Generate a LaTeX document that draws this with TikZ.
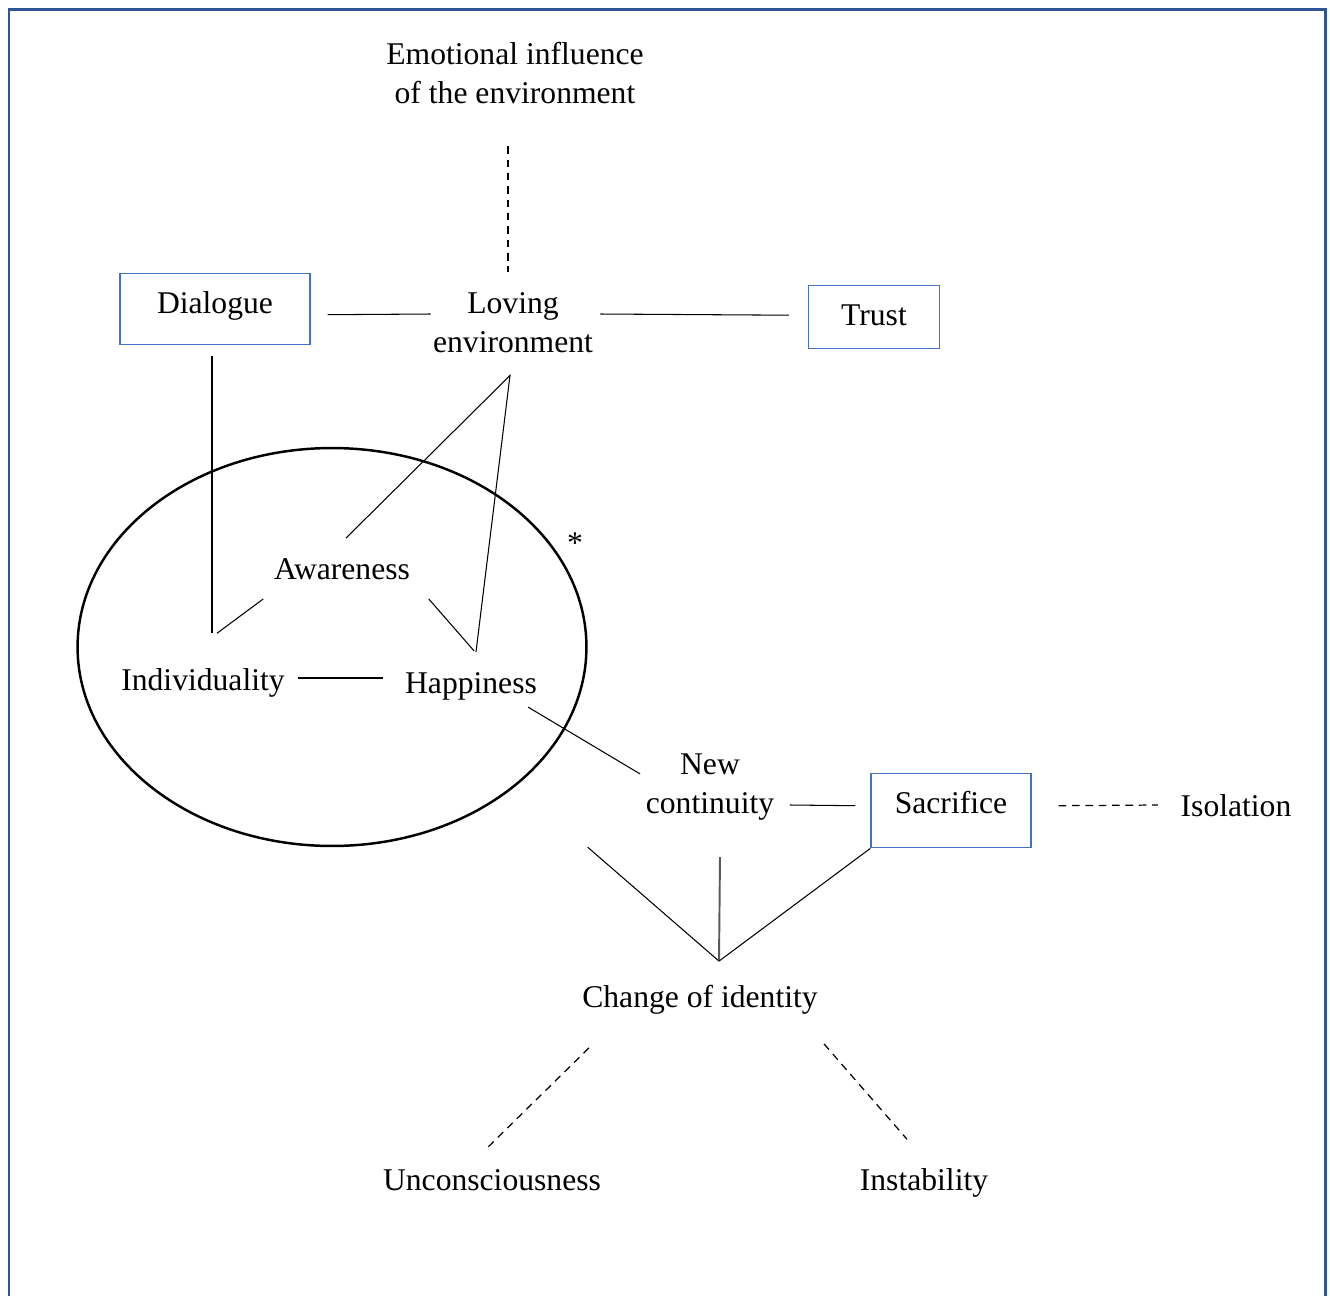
\documentclass[tikz,border=0pt]{standalone}
\usepackage{fontspec}
\setmainfont{Liberation Serif}
\usetikzlibrary{shapes.geometric, positioning}
\definecolor{framecol}{RGB}{47,85,151}
\definecolor{boxcol}{RGB}{68,114,196}
\definecolor{stemgray}{RGB}{89,89,89}

\begin{document}
\begin{tikzpicture}[
    x=0.02cm, y=-0.02cm,
    every node/.style={font=\fontsize{18}{22.2}\selectfont},
    txt/.style={inner sep=0pt, align=center},
    box/.style={rectangle, draw=boxcol, line width=0.8pt, inner sep=0pt, text height=0.8cm, anchor=north},
    link/.style={line width=0.6pt},
    dashlink/.style={line width=0.7pt, dash pattern=on 4.3pt off 3.3pt}
]
\useasboundingbox (0,0) rectangle (1330,1296);

% Frame
\draw[framecol, line width=0.06cm] (9,1310) -- (9,9) -- (1325,9) -- (1325,1310);

% Top layer
\node[txt] (emotion) at (515,73) {Emotional influence\\of the environment};
\node[txt] (loving) at (513,322.5) {Loving\\environment};
\node[box, minimum width=3.8cm, text depth=0.62cm] (dialogue) at (215,273) {Dialogue};
\node[box, minimum width=2.62cm, text depth=0.46cm] (trust) at (874,285) {Trust};

% Circle
\node[ellipse, draw, line width=1.4pt, minimum width=10.18cm, minimum height=7.96cm] (core) at (332,647) {};
\node[txt] (awareness) at (342,569) {Awareness};
\node[txt] (individuality) at (203,683) {Individuality};
\node[txt] (happiness) at (471,686) {Happiness};
\node[txt] (asterisk) at (575,543) {*};

% Lower layer
\node[txt] (continuity) at (710,787.5) {New\\continuity};
\node[box, minimum width=3.2cm, text depth=0.68cm] (sacrifice) at (951,773) {Sacrifice};
\node[txt] (isolation) at (1236,806) {Isolation};
\node[txt] (identity) at (700,1000) {Change of identity};
\node[txt] (unconscious) at (492,1180) {Unconsciousness};
\node[txt] (instability) at (924,1183) {Instability};
\coordinate (meet) at ([shift={(19,-24)}]identity.north);

% Links
\draw[dashlink] ([shift={(-7,42)}]emotion.south) -- ([shift={(-5,-20.5)}]loving.north);
\draw[link] ([shift={(17,5.5)}]dialogue.east) -- ([shift={(-2,-8.5)}]loving.west);
\draw[link] ([shift={(7,-8.5)}]loving.east) -- ([shift={(-19,-2)}]trust.west);
\draw[link] ([shift={(-3,11)}]dialogue.south) -- ([shift={(9,-35)}]individuality.north);
\draw[link] ([shift={(4,-20)}]awareness.north) -- ([shift={(-3,22.5)}]loving.south)
    -- ([shift={(5,-20)}]happiness.north);
\draw[link] ([shift={(-10.5,19)}]awareness.south west) -- ([shift={(14,-35)}]individuality.north);
\draw[link] ([shift={(18.5,19)}]awareness.south east) -- ([shift={(3,-21)}]happiness.north);
\draw[link] ([shift={(13,-5)}]individuality.east) -- ([shift={(-22,-8)}]happiness.west);
\draw[link] ([shift={(-9,7)}]happiness.south east) -- ([shift={(-5.5,20)}]continuity.north west);
\draw[link] ([shift={(15.5,17.5)}]continuity.east) -- ([shift={(-15,-5)}]sacrifice.west);
\draw[dashlink] ([shift={(27,-5)}]sacrifice.east) -- ([shift={(-22.5,-1)}]isolation.west);

% Towards change of identity
\draw[link] (core.east |- core.south) -- (meet);
\draw[stemgray, line width=1.1pt] ([shift={(10,36)}]continuity.south) -- (meet);
\draw[link] (sacrifice.south west) -- (meet);
\draw[dashlink] ([shift={(7,33)}]identity.south west) -- ([shift={(-7,-19)}]unconscious.north);
\draw[dashlink] ([shift={(6,29)}]identity.south east) -- ([shift={(-17,-29)}]instability.north);

\end{tikzpicture}
\end{document}
